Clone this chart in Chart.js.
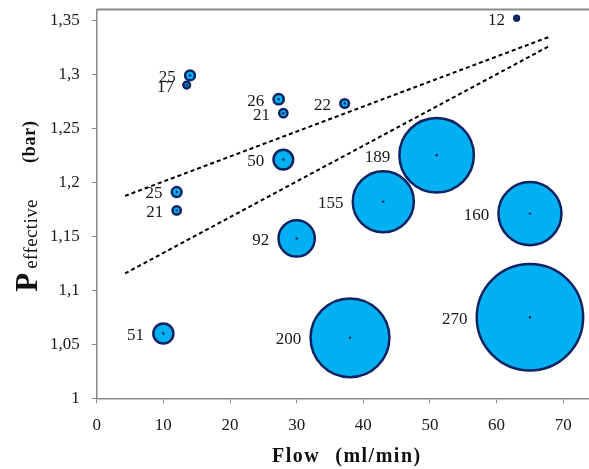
<!DOCTYPE html>
<html><head><meta charset="utf-8">
<script src="https://cdn.jsdelivr.net/npm/chart.js@4/dist/chart.umd.min.js"></script>
<style>html,body{margin:0;padding:0;background:#fff;overflow:hidden}#wrap{width:589px;height:469px;position:relative}</style>
</head><body><div id="wrap"><canvas id="c"></canvas></div>
<script>
// ---- data ----
const flow     = [63,    14,    13.5,  27.3,  28,    28,    12,    12,    37.2,  51,    43,    65,    30,    10,    38,    65];
const pressure = [1.352, 1.299, 1.290, 1.277, 1.264, 1.221, 1.191, 1.174, 1.273, 1.225, 1.182, 1.171, 1.148, 1.060, 1.056, 1.075];
const counts   = [12,    25,    17,    26,    21,    50,    25,    21,    22,    189,   155,   160,   92,    51,    200,   270];
const trendUpperX = [4.25, 67.85];
const trendUpperY = [1.1874, 1.3346];
const trendLowerX = [4.25, 67.85];
const trendLowerY = [1.1156, 1.326];
const xTickLabels = ['0','10','20','30','40','50','60','70'];
const yTickLabels = ['1','1,05','1,1','1,15','1,2','1,25','1,3','1,35'];

// ---- styling ----
const FILL = '#00b0f0', EDGE = '#0b2263', AXIS = '#8c8c8c';
const BW = 2.5, RSCALE = 0.197;
const SERIF = '"Liberation Serif", "Times New Roman", serif';

const bubbleData = flow.map((x, i) => ({x: x, y: pressure[i], r: counts[i] * RSCALE}));
const dotData = flow.map((x, i) => ({x: x, y: pressure[i]}));
const upper = trendUpperX.map((x, i) => ({x: x, y: trendUpperY[i]}));
const lower = trendLowerX.map((x, i) => ({x: x, y: trendLowerY[i]}));

const decorPlugin = {
  id: 'decor',
  beforeDatasetsDraw(chart) {
    const {ctx, chartArea: a} = chart;
    ctx.save();
    ctx.strokeStyle = AXIS; ctx.lineWidth = 2;
    ctx.beginPath(); ctx.moveTo(a.left, a.top); ctx.lineTo(a.right + 2, a.top); ctx.stroke();
    ctx.restore();
  },
  afterDatasetsDraw(chart) {
    const {ctx, chartArea: a} = chart;
    const meta = chart.getDatasetMeta(1);
    ctx.save();
    ctx.fillStyle = '#1a1a1a';
    ctx.font = '17px ' + SERIF;
    ctx.textAlign = 'right'; ctx.textBaseline = 'middle';
    meta.data.forEach((el, i) => {
      const r = el.options.radius;
      ctx.fillText(String(counts[i]), el.x - r - BW / 2 - 8, el.y + 2);
    });
    // x title
    const cx = (a.left + a.right) / 2 + 4;
    ctx.textBaseline = 'alphabetic';
    ctx.fillStyle = '#111';
    ctx.font = 'bold 20px ' + SERIF;
    try { ctx.letterSpacing = '1.5px'; } catch (e) {}
    const w1 = ctx.measureText('Flow').width, w2 = ctx.measureText('(ml/min)').width, gap = 15;
    const tot = w1 + gap + w2;
    ctx.textAlign = 'left';
    ctx.fillText('Flow', cx - tot / 2, 462);
    ctx.fillText('(ml/min)', cx - tot / 2 + w1 + gap, 462);
    // y title (rotated)
    const cy = (a.top + a.bottom) / 2 + 2;
    ctx.save();
    ctx.translate(37, cy);
    ctx.rotate(-Math.PI / 2);
    try { ctx.letterSpacing = '0px'; } catch (e) {}
    ctx.font = 'bold 31px ' + SERIF;
    const pW = ctx.measureText('P').width;
    ctx.font = '19px ' + SERIF;
    try { ctx.letterSpacing = '0.4px'; } catch (e) {}
    const eW = ctx.measureText('effective').width;
    try { ctx.letterSpacing = '0.8px'; } catch (e) {}
    ctx.font = 'bold 18px ' + SERIF;
    const bW = ctx.measureText('(bar)').width;
    const g1 = 4, g2 = 36;
    const total = pW + g1 + eW + g2 + bW;
    let x = -total / 2;
    try { ctx.letterSpacing = '0px'; } catch (e) {}
    ctx.font = 'bold 31px ' + SERIF; ctx.fillText('P', x, 0); x += pW + g1;
    try { ctx.letterSpacing = '0.4px'; } catch (e) {}
    ctx.font = '19px ' + SERIF; ctx.fillText('effective', x, 0); x += eW + g2;
    try { ctx.letterSpacing = '0.8px'; } catch (e) {}
    ctx.font = 'bold 18px ' + SERIF; ctx.fillText('(bar)', x, -2);
    ctx.restore();
    ctx.restore();
  }
};

new Chart(document.getElementById('c'), {
  type: 'bubble',
  data: {
    datasets: [
      {type: 'scatter', data: dotData, pointRadius: 1.2, pointBackgroundColor: EDGE, pointBorderWidth: 0, order: 0},
      {type: 'bubble', data: bubbleData, backgroundColor: FILL, borderColor: EDGE, borderWidth: BW, order: 1},
      {type: 'scatter', data: upper, showLine: true, borderColor: '#000', borderWidth: 2, borderDash: [4, 3], pointRadius: 0, order: 2},
      {type: 'scatter', data: lower, showLine: true, borderColor: '#000', borderWidth: 2, borderDash: [4, 3], pointRadius: 0, order: 2}
    ]
  },
  options: {
    responsive: true, maintainAspectRatio: false, animation: false, events: [],
    layout: {autoPadding: false, padding: {left: 0, right: 0, top: 9.5, bottom: 0}},
    plugins: {legend: {display: false}, tooltip: {enabled: false}},
    scales: {
      x: {
        type: 'linear', min: 0, max: 73.86,
        afterFit(s) { s.height = 70.7; s.paddingLeft = 0; s.paddingRight = 0; },
        ticks: {stepSize: 10, includeBounds: false, padding: 12, color: '#1a1a1a', font: {family: SERIF, size: 17},
          callback: (v) => xTickLabels[Math.round(v / 10)]},
        grid: {display: true, drawOnChartArea: false, drawTicks: true, tickLength: 5, color: AXIS},
        border: {display: true, color: AXIS, width: 1.5}
      },
      y: {
        type: 'linear', min: 1, max: 1.36,
        afterFit(s) { s.width = 96.7; s.paddingTop = 0; s.paddingBottom = 0; },
        ticks: {stepSize: 0.05, includeBounds: false, padding: 12, color: '#1a1a1a', font: {family: SERIF, size: 17},
          callback: (v) => yTickLabels[Math.round((v - 1) / 0.05)]},
        grid: {display: true, drawOnChartArea: false, drawTicks: true, tickLength: 5, color: AXIS},
        border: {display: true, color: AXIS, width: 1.5}
      }
    }
  },
  plugins: [decorPlugin]
});
</script>
</body></html>
